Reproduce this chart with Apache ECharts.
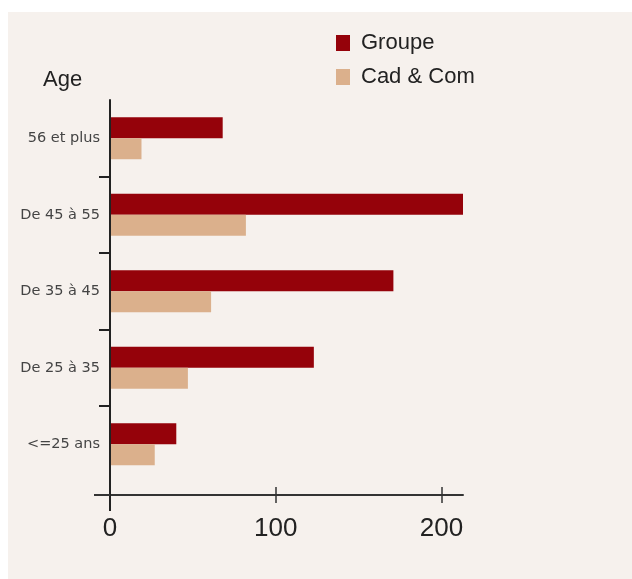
<!DOCTYPE html>
<html>
<head>
<meta charset="utf-8">
<script src="https://cdn.jsdelivr.net/npm/echarts@6/dist/echarts.min.js"></script>
<style>
html,body{margin:0;padding:0;background:#ffffff;width:632px;height:579px;overflow:hidden;}
#main{position:absolute;left:8px;top:12px;width:624px;height:567px;}
</style>
</head>
<body>
<div id="main"></div>
<script>
const categories = ['56 et plus', 'De 45 à 55', 'De 35 à 45', 'De 25 à 35', '<=25 ans'];
const groupe = [68, 213, 171, 123, 40];
const cadCom = [19, 82, 61, 47, 27];
const xTicks = [0, 100, 200];
const seriesNames = ['Groupe', 'Cad & Com'];

const sans = "'Liberation Sans', Arial, sans-serif";
const chart = echarts.init(document.getElementById('main'), null, {renderer: 'canvas'});
const xMax = 213;
chart.setOption({
  backgroundColor: '#f6f1ed',
  animation: false,
  title: {
    text: 'Age', left: 35, top: 57, padding: 0,
    textStyle: {fontFamily: sans, fontSize: 22, fontWeight: 'normal', color: '#222'}
  },
  legend: {
    orient: 'vertical', left: 328, top: 20, padding: 0,
    itemWidth: 14, itemHeight: 16, itemGap: 12, icon: 'rect',
    textStyle: {fontFamily: sans, fontSize: 22, color: '#222', padding: [0, 0, 0, 6]},
    data: seriesNames
  },
  grid: {left: 102, top: 88, right: 169, bottom: 96.5, containLabel: false},
  xAxis: [{
    type: 'value', position: 'bottom', min: 0, max: xMax, interval: 100, offset: 12.5,
    axisLine: {show: true, onZero: false, lineStyle: {color: '#333', width: 2}},
    axisTick: {show: true, length: 8, customValues: xTicks, lineStyle: {color: '#333', width: 1.5}},
    axisLabel: {show: true, customValues: xTicks, margin: 21, fontFamily: sans, fontSize: 26, color: '#222'},
    splitLine: {show: false}
  }, {
    type: 'value', position: 'bottom', min: 0, max: xMax, interval: 100, offset: 12.5,
    axisLine: {show: false, onZero: false},
    axisTick: {show: true, inside: true, length: 8, customValues: xTicks, lineStyle: {color: '#333', width: 1.5}},
    axisLabel: {show: false},
    splitLine: {show: false}
  }],
  yAxis: [{
    type: 'category', data: categories, inverse: true, z: 3,
    axisLine: {show: true, onZero: false, lineStyle: {color: '#222', width: 2}},
    axisTick: {show: false},
    axisLabel: {margin: 10, fontFamily: 'DejaVu Sans, sans-serif', fontSize: 14.5, color: '#444'}
  }, {
    type: 'value', min: 0, max: 5, inverse: true, position: 'left', z: 3,
    axisLine: {show: false, onZero: false},
    axisTick: {show: true, length: 11, customValues: [1, 2, 3, 4], lineStyle: {color: '#222', width: 2}},
    axisLabel: {show: false},
    splitLine: {show: false}
  }],
  series: [{
    name: seriesNames[0], type: 'bar', data: groupe, xAxisIndex: 0, yAxisIndex: 0,
    barWidth: 21, barGap: '0%', itemStyle: {color: '#95020a'}
  }, {
    name: seriesNames[1], type: 'bar', data: cadCom, xAxisIndex: 0, yAxisIndex: 0,
    barWidth: 21, barGap: '0%', itemStyle: {color: '#dbb08c'}
  }]
});

// extend the crossing axis lines beyond the plot corner
const gridRect = chart.getModel().getComponent('grid').coordinateSystem.getRect();
const xAxisY = gridRect.y + gridRect.height + 12.5;
chart.setOption({
  graphic: [{
    type: 'line', z: 10,
    shape: {x1: gridRect.x, y1: gridRect.y + gridRect.height - 1, x2: gridRect.x, y2: xAxisY + 16},
    style: {stroke: '#222', lineWidth: 2}
  }, {
    type: 'line', z: 10,
    shape: {x1: gridRect.x - 16, y1: xAxisY, x2: gridRect.x, y2: xAxisY},
    style: {stroke: '#333', lineWidth: 2}
  }]
});
</script>
</body>
</html>
